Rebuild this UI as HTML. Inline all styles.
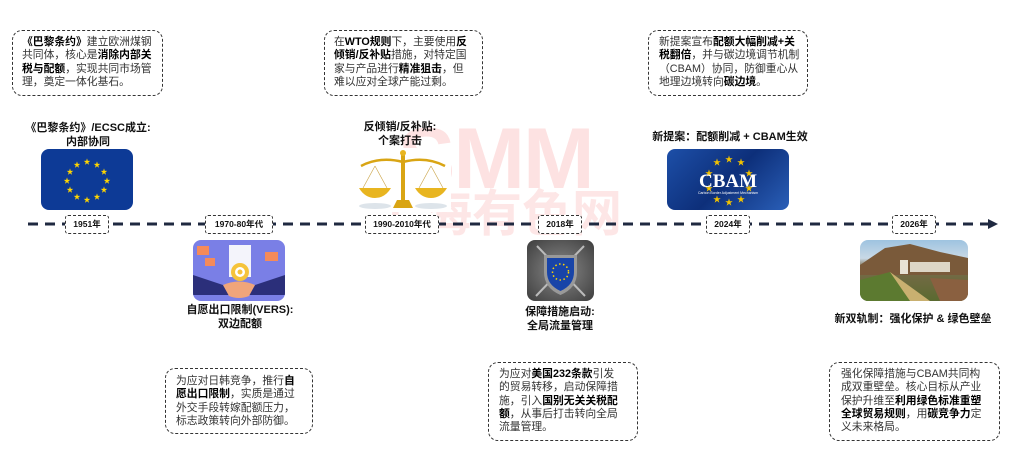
<!DOCTYPE html>
<html><head><meta charset="utf-8"><style>
*{margin:0;padding:0;box-sizing:border-box}
body{width:1024px;height:476px;background:#fff;position:relative;overflow:hidden;font-family:"Liberation Sans","Noto Sans CJK SC",sans-serif;color:#222}
.a{position:absolute}
.box{position:absolute;border:1.3px dashed #333;border-radius:10px;font-size:10.8px;line-height:13.3px;padding:5px 9px;color:#333;white-space:nowrap}
.box b{color:#000}
.t{position:absolute;font-size:11px;font-weight:bold;text-align:center;line-height:14px;color:#111;white-space:nowrap}
.y{position:absolute;top:215px;height:19px;border:1.2px dashed #333;border-radius:3px;background:#fff;font-size:8.5px;font-weight:bold;text-align:center;line-height:17px;color:#111;white-space:nowrap}
.img{position:absolute;border-radius:8px;overflow:hidden}
.wm{position:absolute;color:#fde2e2;font-weight:bold;white-space:nowrap}
</style></head><body>
<div class="wm" style="left:398px;top:116px;font-size:86px;letter-spacing:-2px;line-height:86px;font-family:'Liberation Sans',sans-serif">SMM</div>
<div class="wm" style="left:372px;top:188px;font-size:50px;line-height:52px;color:#fde6e6">上海有色网</div>

<svg class="a" style="left:0;top:0" width="1024" height="476">
<line x1="28" y1="224" x2="990" y2="224" stroke="#1f2940" stroke-width="3" stroke-dasharray="10,7"/>
<polygon points="988,219 998,224 988,229" fill="#1f2940"/>
</svg>

<div class="y" style="left:65px;width:44px">1951年</div>
<div class="y" style="left:205px;width:68px">1970-80年代</div>
<div class="y" style="left:365px;width:74px">1990-2010年代</div>
<div class="y" style="left:538px;width:44px">2018年</div>
<div class="y" style="left:706px;width:44px">2024年</div>
<div class="y" style="left:892px;width:44px">2026年</div>

<div class="box" style="left:12px;top:30px;width:151px;height:66px"><b>《巴黎条约》</b>建立欧洲煤钢<br>共同体，核心是<b>消除内部关</b><br><b>税与配额</b>，实现共同市场管<br>理，奠定一体化基石。</div>
<div class="box" style="left:324px;top:30px;width:159px;height:66px">在<b>WTO规则</b>下，主要使用<b>反</b><br><b>倾销/反补贴</b>措施，对特定国<br>家与产品进行<b>精准狙击</b>，但<br>难以应对全球产能过剩。</div>
<div class="box" style="left:648px;top:30px;width:160px;height:66px;padding-left:10px">新提案宣布<b>配额大幅削减+关</b><br><b>税翻倍</b>，并与碳边境调节机制<br>（CBAM）协同，防御重心从<br>地理边境转向<b>碳边境</b>。</div>

<div class="t" style="left:8px;width:160px;top:121px">《巴黎条约》/ECSC成立:<br>内部协同</div>
<div class="t" style="left:330px;width:140px;top:120px">反倾销/反补贴:<br>个案打击</div>
<div class="t" style="left:650px;width:160px;top:130px">新提案：配额削减 + CBAM生效</div>

<div class="img" style="left:41px;top:149px;width:92px;height:61px;background:#0d3a96">
<svg width="92" height="61"><g fill="#ffd500" font-size="7" text-anchor="middle">
<text x="46" y="15">★</text><text x="56" y="18">★</text><text x="63" y="25">★</text><text x="66" y="34">★</text><text x="63" y="43">★</text><text x="56" y="50">★</text><text x="46" y="53">★</text><text x="36" y="50">★</text><text x="29" y="43">★</text><text x="26" y="34">★</text><text x="29" y="25">★</text><text x="36" y="18">★</text></g></svg>
</div>

<svg class="a" style="left:355px;top:148px" width="96" height="64">
<rect x="0" y="0" width="96" height="64" fill="#fff"/>
<ellipse cx="20" cy="58" rx="16" ry="3" fill="#dde4ea"/><ellipse cx="76" cy="58" rx="16" ry="3" fill="#dde4ea"/>
<path d="M6 18 Q25 8 48 14 Q71 8 90 18" stroke="#d9a514" stroke-width="2.5" fill="none"/>
<line x1="20" y1="18" x2="8" y2="40" stroke="#c9a040" stroke-width=".6"/><line x1="20" y1="18" x2="32" y2="40" stroke="#c9a040" stroke-width=".6"/>
<line x1="76" y1="18" x2="64" y2="40" stroke="#c9a040" stroke-width=".6"/><line x1="76" y1="18" x2="88" y2="40" stroke="#c9a040" stroke-width=".6"/>
<path d="M4 40 H36 Q30 50 20 50 Q10 50 4 40Z" fill="#e8b520"/><path d="M60 40 H92 Q86 50 76 50 Q66 50 60 40Z" fill="#e8b520"/>
<rect x="46" y="6" width="4" height="46" fill="#d9a514"/><circle cx="48" cy="5" r="3" fill="#e8b520"/>
<path d="M38 60 H58 L54 52 H42Z" fill="#d9a514"/>
</svg>

<div class="img" style="left:667px;top:149px;width:122px;height:61px;background:linear-gradient(135deg,#1d4fa8,#0d2f7a 50%,#2a5fb8)">
<svg width="122" height="61"><g fill="#f2c200" font-size="8" text-anchor="middle">
<text x="50" y="16">★</text><text x="62" y="13">★</text><text x="74" y="16">★</text><text x="42" y="27">★</text><text x="82" y="27">★</text><text x="42" y="42">★</text><text x="82" y="42">★</text><text x="50" y="53">★</text><text x="62" y="56">★</text><text x="74" y="53">★</text></g>
<text x="61" y="38" fill="#fff" font-family="Liberation Serif,serif" font-weight="bold" font-size="19" text-anchor="middle">CBAM</text>
<text x="61" y="45" fill="#fff" font-size="3.5" text-anchor="middle">Carbon Border Adjustment Mechanism</text></svg>
</div>

<div class="img" style="left:193px;top:240px;width:92px;height:61px;background:#7a7fe6">
<svg width="92" height="61"><rect x="36" y="5" width="22" height="32" fill="#f4f4fb"/><circle cx="47" cy="32" r="9" fill="#f5c33b"/><circle cx="47" cy="32" r="5" fill="#fff"/><circle cx="47" cy="32" r="2.5" fill="#f5c33b"/>
<rect x="4" y="6" width="12" height="9" fill="#f58a5a"/><rect x="72" y="12" width="13" height="9" fill="#f58a5a"/><rect x="12" y="18" width="10" height="8" fill="#f58a5a"/>
<path d="M0 35 L30 45 L36 55 L0 55Z" fill="#2b2f7a"/><path d="M92 35 L62 45 L56 55 L92 55Z" fill="#2b2f7a"/>
<path d="M30 45 Q46 38 62 45 L56 56 Q46 60 36 56Z" fill="#f0a57a"/></svg>
</div>

<div class="img" style="left:527px;top:240px;width:67px;height:61px;background:radial-gradient(#8a8a8a,#3d3d3d)">
<svg width="67" height="61"><line x1="10" y1="6" x2="58" y2="56" stroke="#bbb" stroke-width="2"/><line x1="57" y1="6" x2="9" y2="56" stroke="#bbb" stroke-width="2"/>
<path d="M17 15 H50 V32 Q50 48 33.5 55 Q17 48 17 32Z" fill="#999"/><path d="M20 18 H47 V32 Q47 45 33.5 51 Q20 45 20 32Z" fill="#1844a8"/>
<circle cx="33.5" cy="32" r="8" fill="none" stroke="#ffd500" stroke-width="1.5" stroke-dasharray="1.5,2.5"/></svg>
</div>

<div class="img" style="left:860px;top:240px;width:108px;height:61px;background:linear-gradient(#9ec3e0,#c9d9e6 30%,#7a6a4a 45%,#5a6a30)">
<svg width="108" height="61"><path d="M0 25 L25 8 L50 4 L80 12 L108 18 V35 H0Z" fill="#7a5a3a"/>
<rect x="40" y="20" width="8" height="14" fill="#e8e2d4"/><rect x="50" y="22" width="40" height="10" fill="#ddd6c6"/>
<path d="M30 32 L70 61 H50 L20 40Z" fill="#c9b070"/><path d="M0 40 L30 32 L50 61 H0Z" fill="#5c7a30"/><path d="M70 38 L108 40 V61 H80Z" fill="#8a6040"/></svg>
</div>

<div class="t" style="left:170px;width:140px;top:303px">自愿出口限制(VERS):<br>双边配额</div>
<div class="t" style="left:490px;width:140px;top:305px">保障措施启动:<br>全局流量管理</div>
<div class="t" style="left:830px;width:166px;top:312px">新双轨制：强化保护 &amp; 绿色壁垒</div>

<div class="box" style="left:165px;top:368px;width:148px;height:66px;padding:6px 10px">为应对日韩竞争，推行<b>自</b><br><b>愿出口限制</b>，实质是通过<br>外交手段转嫁配额压力，<br>标志政策转向外部防御。</div>
<div class="box" style="left:488px;top:362px;width:150px;height:79px;padding:5px 10px">为应对<b>美国232条款</b>引发<br>的贸易转移，启动保障措<br>施，引入<b>国别无关关税配</b><br><b>额</b>，从事后打击转向全局<br>流量管理。</div>
<div class="box" style="left:829px;top:362px;width:171px;height:79px;padding:5px 11px">强化保障措施与CBAM共同构<br>成双重壁垒。核心目标从产业<br>保护升维至<b>利用绿色标准重塑</b><br><b>全球贸易规则</b>，用<b>碳竞争力</b>定<br>义未来格局。</div>
</body></html>
